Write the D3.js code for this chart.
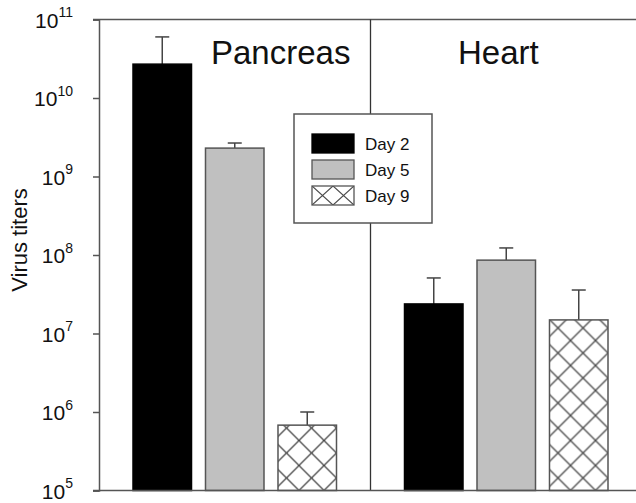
<!DOCTYPE html>
<html>
<head>
<meta charset="utf-8">
<script src="https://cdn.jsdelivr.net/npm/d3@7"></script>
<style>
  html, body { margin: 0; padding: 0; background: #fff; }
  svg { display: block; font-family: "Liberation Sans", Arial, Helvetica, sans-serif; }
</style>
</head>
<body>
<svg id="chart" width="636" height="503"></svg>
<script>
// ---- data ----
const groups = ["Pancreas", "Heart"];
const days = ["Day 2", "Day 5", "Day 9"];
const pancreasValues = [2.7e10, 2.3e9, 6.8e5];
const pancreasErrTop = [6.0e10, 2.67e9, 1.0e6];
const heartValues = [2.38e7, 8.6e7, 1.49e7];
const heartErrTop = [5.1e7, 1.23e8, 3.58e7];
const tickExponents = [5, 6, 7, 8, 9, 10, 11];
const yTitle = "Virus titers";

const table = [
  { group: groups[0], values: pancreasValues, err: pancreasErrTop },
  { group: groups[1], values: heartValues, err: heartErrTop }
];

// ---- layout ----
const svg = d3.select("#chart");
const plotLeft = 99, plotRight = 642, plotTop = 19.5, plotBottom = 490.5;
const axisColor = "#555";

const y = d3.scaleLog().domain([1e5, 1e11]).range([plotBottom, plotTop]);
const x0 = d3.scaleBand().domain(groups).range([plotLeft, plotRight]).padding(0);
const x1 = d3.scaleBand().domain(days).range([0, x0.bandwidth()])
  .paddingInner(0.193).paddingOuter(0.469);

const defs = svg.append("defs");
const hatch = defs.append("pattern").attr("id", "hatch")
  .attr("patternUnits", "userSpaceOnUse").attr("width", 25).attr("height", 25)
  .attr("y", plotBottom);
hatch.append("rect").attr("width", 25).attr("height", 25).attr("fill", "#fff");
hatch.append("path").attr("d", "M0,0L25,25M25,0L0,25")
  .attr("stroke", "#4a4a4a").attr("stroke-width", 1.3);

const fills = { "Day 2": "#000", "Day 5": "#c0c0c0", "Day 9": "url(#hatch)" };
const strokes = { "Day 2": "#000", "Day 5": "#555", "Day 9": "#555" };

// frame lines: top, divider
svg.append("line").attr("x1", plotLeft - 6).attr("x2", 636).attr("y1", plotTop).attr("y2", plotTop)
  .attr("stroke", axisColor).attr("stroke-width", 1.5);
svg.append("line").attr("x1", x0("Heart")).attr("x2", x0("Heart")).attr("y1", plotTop).attr("y2", plotBottom)
  .attr("stroke", "#333").attr("stroke-width", 1.3);

// bars
const gGroups = svg.selectAll("g.grp").data(table).join("g")
  .attr("class", "grp").attr("transform", d => `translate(${x0(d.group)},0)`);

gGroups.selectAll("g.err").data(d => days.map((day, i) => ({ day, v: d.values[i], e: d.err[i] })))
  .join("g").attr("class", "err").each(function (d) {
    const g = d3.select(this);
    const cx = x1(d.day) + x1.bandwidth() / 2;
    g.append("line").attr("x1", cx).attr("x2", cx).attr("y1", y(d.v)).attr("y2", y(d.e))
      .attr("stroke", "#444").attr("stroke-width", 1.5);
    g.append("line").attr("x1", cx - 7).attr("x2", cx + 7).attr("y1", y(d.e)).attr("y2", y(d.e))
      .attr("stroke", "#444").attr("stroke-width", 1.5);
  });

gGroups.selectAll("rect.bar").data(d => days.map((day, i) => ({ day, v: d.values[i] })))
  .join("rect").attr("class", "bar")
  .attr("x", d => x1(d.day)).attr("width", x1.bandwidth())
  .attr("y", d => y(d.v)).attr("height", d => plotBottom - y(d.v))
  .attr("fill", d => fills[d.day]).attr("stroke", d => strokes[d.day]).attr("stroke-width", 1.5);

// group titles
svg.append("text").attr("x", 211).attr("y", 64).attr("font-size", 33).attr("fill", "#111").text(groups[0]);
svg.append("text").attr("x", 458).attr("y", 64).attr("font-size", 33).attr("fill", "#111").text(groups[1]);

// bottom line
svg.append("line").attr("x1", plotLeft - 6).attr("x2", 636).attr("y1", plotBottom).attr("y2", plotBottom)
  .attr("stroke", axisColor).attr("stroke-width", 1.5);

// y axis
const yAxis = d3.axisLeft(y).tickValues(tickExponents.map(e => Math.pow(10, e)))
  .tickSize(6).tickFormat(() => "");
const ga = svg.append("g").attr("transform", `translate(${plotLeft},0)`).call(yAxis);
ga.select(".domain").attr("stroke", axisColor).attr("stroke-width", 1.5);
ga.selectAll(".tick line").attr("stroke", axisColor).attr("stroke-width", 1.5);
ga.selectAll(".tick text").remove();
ga.selectAll(".tick").each(function (d) {
  const t = d3.select(this).append("text")
    .attr("x", -26).attr("dy", "0.36em").attr("text-anchor", "end")
    .attr("fill", "#111").attr("font-size", 21);
  t.append("tspan").text("10");
  t.append("tspan").attr("font-size", 14).attr("dy", "-0.75em").text(Math.round(Math.log10(d)));
});

// y title
svg.append("text").attr("transform", "translate(27,240) rotate(-90)")
  .attr("text-anchor", "middle").attr("font-size", 22).attr("fill", "#111").text(yTitle);

// legend
const lg = svg.append("g").attr("transform", "translate(294,114)");
lg.append("rect").attr("width", 138).attr("height", 109).attr("fill", "#fff")
  .attr("stroke", "#555").attr("stroke-width", 1.5);
const legHatch = defs.append("pattern").attr("id", "legHatch")
  .attr("patternUnits", "userSpaceOnUse").attr("width", 21).attr("height", 19)
  .attr("x", 312).attr("y", 186);
legHatch.append("rect").attr("width", 21).attr("height", 19).attr("fill", "#fff");
legHatch.append("path").attr("d", "M0,0L21,19M21,0L0,19").attr("stroke", "#4a4a4a").attr("stroke-width", 1.2);
const legFills = { "Day 2": "#000", "Day 5": "#c0c0c0", "Day 9": "url(#legHatch)" };
days.forEach((day, i) => {
  lg.append("rect").attr("x", 18).attr("y", 20 + i * 26).attr("width", 42).attr("height", 19)
    .attr("fill", legFills[day]).attr("stroke", strokes[day]).attr("stroke-width", 1.3);
  lg.append("text").attr("x", 71).attr("y", 36 + i * 26).attr("font-size", 17).attr("fill", "#111").text(day);
});
</script>
</body>
</html>
